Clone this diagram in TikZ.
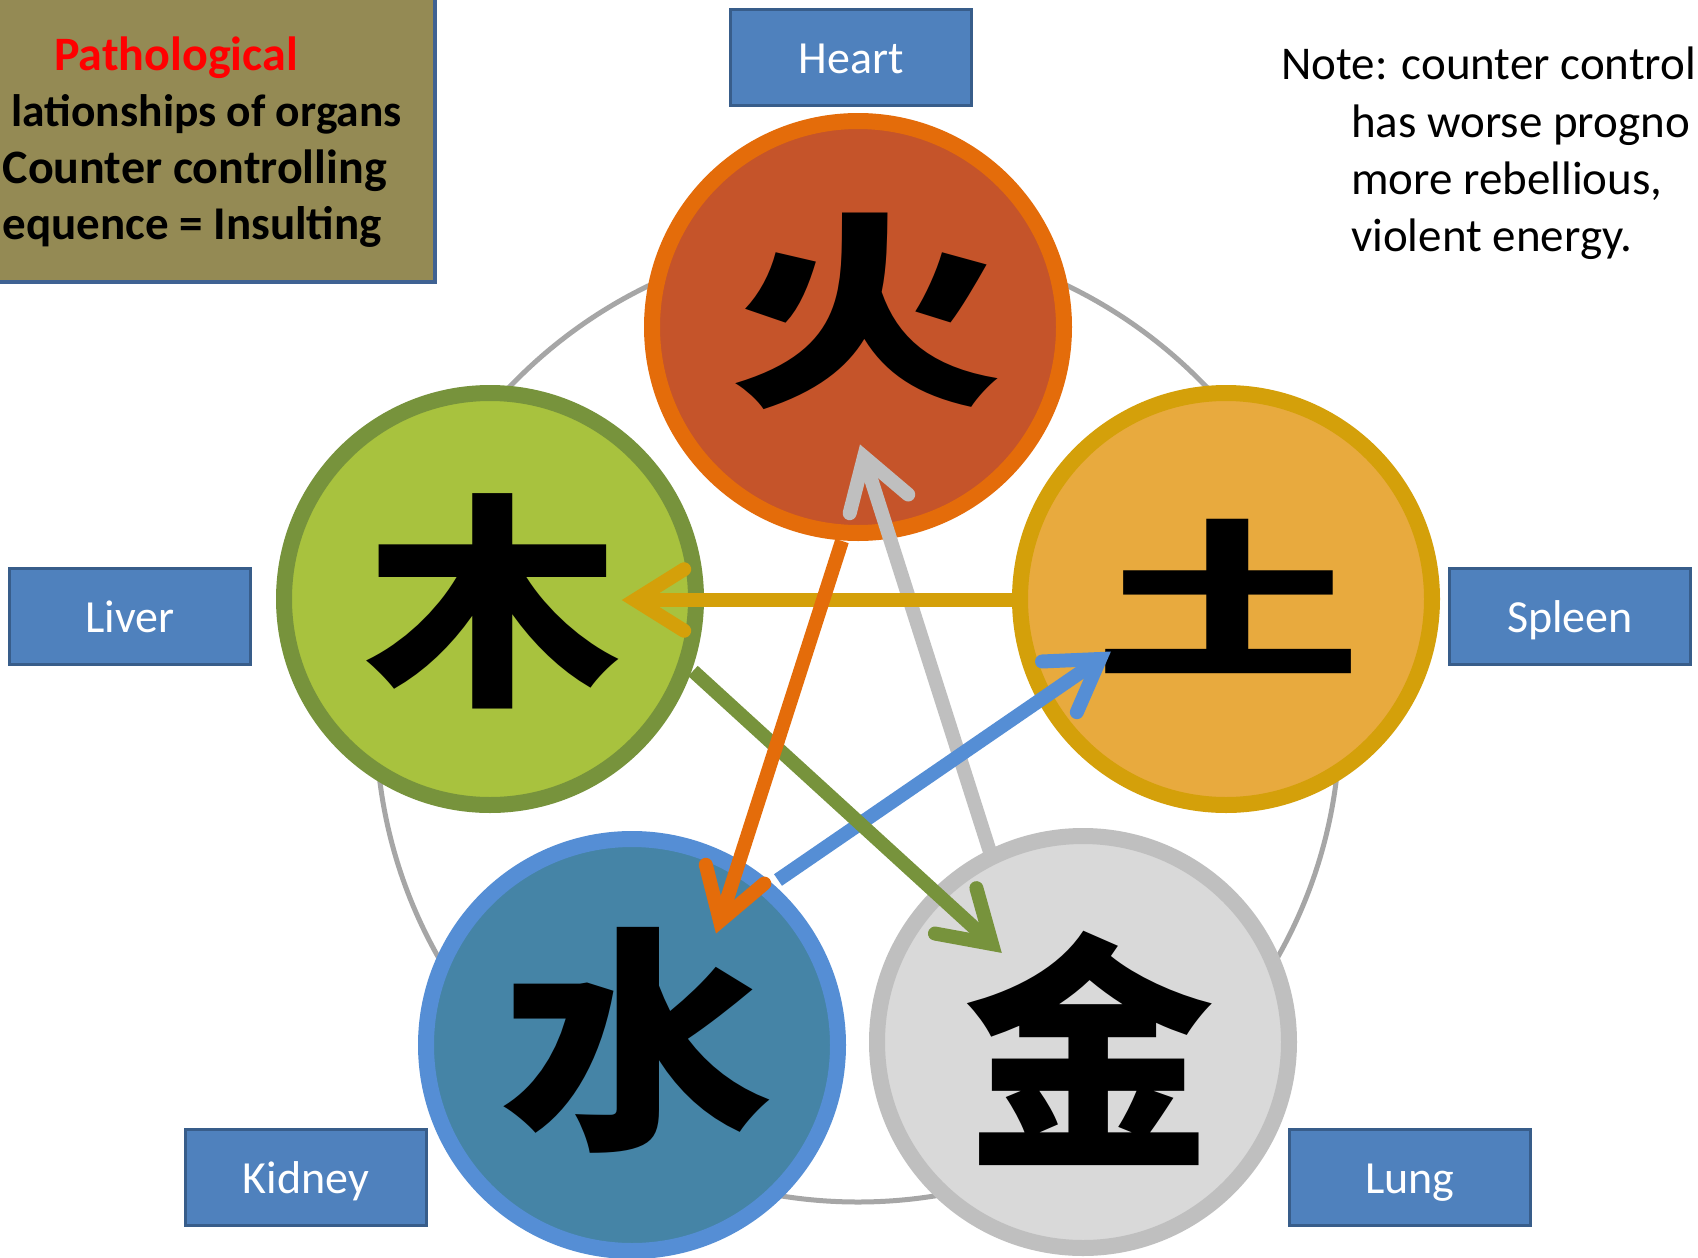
\documentclass[tikz,border=0pt]{standalone}
\usepackage{fontspec}
\setmainfont{Carlito}
\newfontfamily\cjk{Noto Sans CJK SC}
\usetikzlibrary{calc}
\definecolor{olivebox}{RGB}{148,138,84}
\definecolor{boxline}{RGB}{63,98,147}
\definecolor{lblfill}{RGB}{79,129,189}
\definecolor{lblline}{RGB}{56,93,138}
\definecolor{firefill}{RGB}{197,84,42}
\definecolor{fireline}{RGB}{228,108,10}
\definecolor{woodfill}{RGB}{168,194,62}
\definecolor{woodline}{RGB}{119,147,60}
\definecolor{earthfill}{RGB}{232,170,62}
\definecolor{earthline}{RGB}{212,160,10}
\definecolor{waterfill}{RGB}{69,132,166}
\definecolor{waterline}{RGB}{85,142,213}
\definecolor{metalfill}{RGB}{217,217,217}
\definecolor{metalline}{RGB}{191,191,191}
\definecolor{ringgray}{RGB}{166,166,166}
\newcommand{\arrowed}[3]{%
  \draw[shaft,#1] (#2) -- (#3);
  \draw[barb,#1] ($(#3)!58pt!32:(#2)$) -- (#3) -- ($(#3)!58pt!-32:(#2)$);
}
\begin{document}
\begin{tikzpicture}[x=1pt,y=-1pt,
  elem/.style={circle,line width=16pt,minimum size=412pt,inner sep=0pt},
  hanzi/.style={inner sep=0pt,transform shape,font=\fontsize{270}{270}\selectfont\cjk\bfseries},
  lbl/.style={rectangle,fill=lblfill,draw=lblline,line width=3pt,minimum width=241pt,minimum height=96pt,inner sep=0pt,text=white,text height=33pt,text depth=0pt,font=\fontsize{46}{55}\selectfont},
  shaft/.style={line width=14pt,line cap=butt},
  barb/.style={line width=14pt,line cap=round,line join=miter},
  notetxt/.style={inner sep=0pt,anchor=base west,font=\fontsize{47}{56}\selectfont},
  headtxt/.style={inner sep=0pt,anchor=base east,font=\fontsize{48}{57}\selectfont\bfseries}]
\useasboundingbox (0,0) rectangle (1698,1258);
\clip (0,0) rectangle (1698,1258);
\fill[white] (0,0) rectangle (1698,1258);
% title box
\node[rectangle,fill=olivebox,draw=boxline,line width=4pt,minimum width=475pt,minimum height=302pt,inner sep=0pt] (titlebox) at (197.5,131) {};
\node[headtxt,text=red] (t1) at (298,70) {Pathological};
\node[headtxt,font=\fontsize{45.5}{55}\selectfont\bfseries] (t2) at (402,126) {lationships of organs};
\node[headtxt] (t3) at (387,183) {Counter controlling};
\node[headtxt,font=\fontsize{47}{56}\selectfont\bfseries] (t4) at (382,239) {equence = Insulting};
% note
\node[notetxt] (n1) at (1281,79) {Note: counter control};
\node[notetxt] (n2) at (1351,137) {has worse progno};
\node[notetxt] (n3) at (1351,194) {more rebellious,};
\node[notetxt] (n4) at (1351,251) {violent energy.};
% ring
\node[circle,draw=ringgray,line width=5pt,minimum size=964pt,inner sep=0pt] (ring) at (858,720) {};
% element circles
\node[elem,fill=firefill,draw=fireline] (fire) at (858,327) {};
\node[elem,fill=woodfill,draw=woodline] (wood) at (490,599) {};
\node[elem,fill=earthfill,draw=earthline] (earth) at (1226,599) {};
\node[elem,fill=waterfill,draw=waterline] (water) at (632,1045) {};
\node[elem,fill=metalfill,draw=metalline] (metal) at (1083,1042) {};
\node[hanzi,xscale=1.02,yscale=0.77] (huo) at (866,311) {火};
\node[hanzi,xscale=0.95,yscale=0.84] (mu) at (493,601) {木};
\node[hanzi,xscale=0.99,yscale=0.63] (tu) at (1228,596) {土};
\node[hanzi,xscale=1.01,yscale=0.88] (shui) at (637,1040) {水};
\node[hanzi,xscale=0.93,yscale=0.92] (jin) at (1089,1048) {金};
% arrows
\coordinate (gtail) at (990,852);  \coordinate (gtip) at (864,457);
\coordinate (otail) at (842,541);  \coordinate (otip) at (720,921);
\coordinate (ytail) at (1012,600); \coordinate (ytip) at (635,600);
\coordinate (etail) at (693,671);  \coordinate (etip) at (992,944);
\coordinate (btail) at (778,880);  \coordinate (btip) at (1100,659);
\arrowed{metalline}{gtail}{gtip}
\arrowed{earthline}{ytail}{ytip}
\arrowed{waterline}{btail}{btip}
\arrowed{woodline}{etail}{etip}
\arrowed{fireline}{otail}{otip}
% labels
\node[lbl] (heart) at (851,57) {Heart};
\node[lbl] (liver) at (130,616) {Liver};
\node[lbl] (spleen) at (1570,616) {Spleen};
\node[lbl] (kidney) at (306,1177) {Kidney};
\node[lbl] (lung) at (1410,1177) {Lung};
\end{tikzpicture}
\end{document}
